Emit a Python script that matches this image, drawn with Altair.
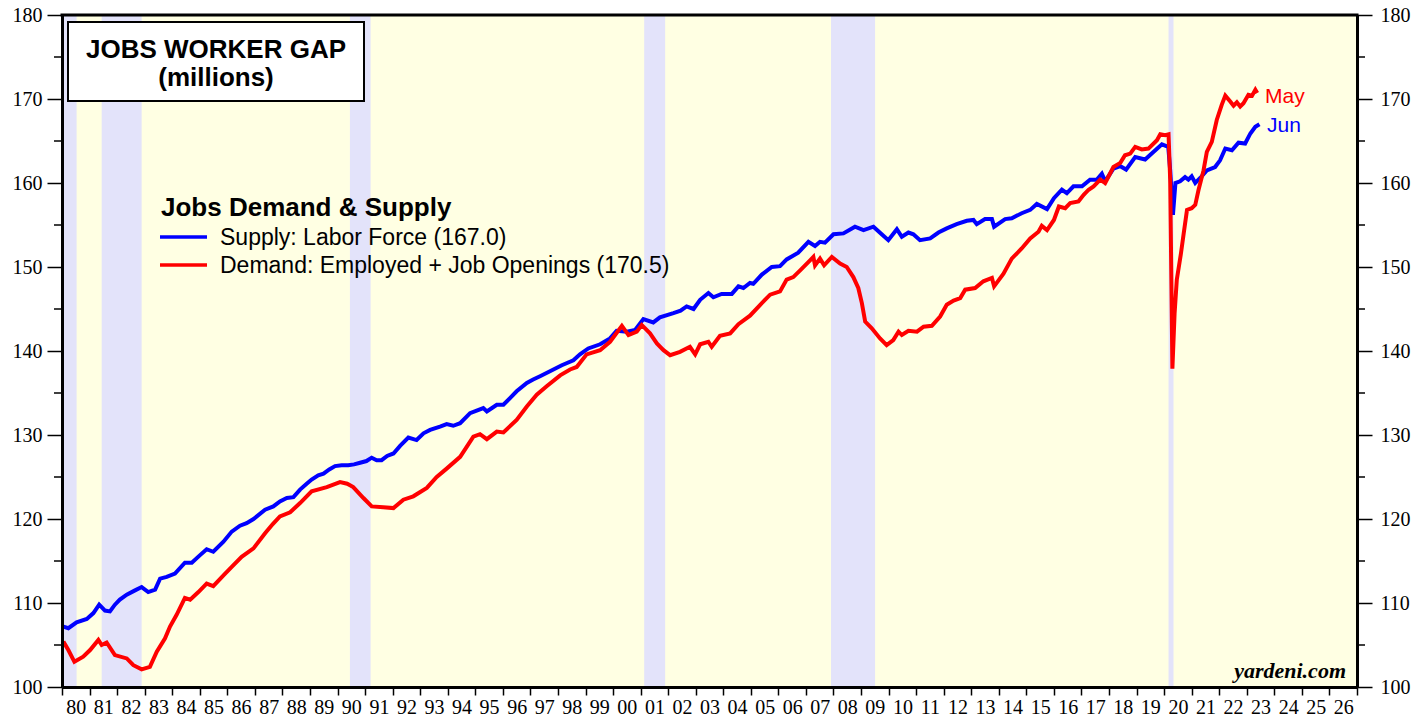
import altair as alt
import pandas as pd

# ---------------- data ----------------
SUPPLY_DATES = [
    1980.05, 1980.23, 1980.53, 1980.90, 1981.14, 1981.35, 1981.56, 1981.74, 1981.92, 1982.10,
    1982.35, 1982.65, 1982.89, 1983.13, 1983.38, 1983.56, 1983.80, 1984.10, 1984.46, 1984.71,
    1985.01, 1985.25, 1985.49, 1985.86, 1986.16, 1986.46, 1986.70, 1986.95, 1987.37, 1987.67,
    1987.91, 1988.16, 1988.40, 1988.64, 1988.88, 1989.06, 1989.30, 1989.49, 1989.70, 1989.91,
    1990.15, 1990.39, 1990.60, 1990.82, 1991.05, 1991.24, 1991.42, 1991.60, 1991.80, 1992.03,
    1992.27, 1992.57, 1992.87, 1993.12, 1993.36, 1993.72, 1993.96, 1994.20, 1994.45, 1994.81,
    1995.05, 1995.29, 1995.42, 1995.78, 1996.02, 1996.26, 1996.50, 1996.87, 1997.10, 1997.35,
    1997.71, 1998.14, 1998.56, 1998.80, 1999.10, 1999.53, 1999.89, 2000.13, 2000.50, 2000.80,
    2001.10, 2001.46, 2001.70, 2002.19, 2002.45, 2002.67, 2002.92, 2003.16, 2003.46, 2003.64,
    2003.94, 2004.31, 2004.55, 2004.73, 2004.97, 2005.09, 2005.40, 2005.76, 2006.06, 2006.30,
    2006.72, 2007.09, 2007.33, 2007.51, 2007.69, 2008.00, 2008.36, 2008.78, 2009.09, 2009.45,
    2009.75, 2009.99, 2010.30, 2010.48, 2010.72, 2010.90, 2011.14, 2011.51, 2011.81, 2012.11,
    2012.47, 2012.84, 2013.08, 2013.20, 2013.50, 2013.75, 2013.83, 2014.23, 2014.47, 2014.83,
    2015.14, 2015.38, 2015.75, 2016.00, 2016.29, 2016.47, 2016.71, 2017.02, 2017.31, 2017.56,
    2017.74, 2017.86, 2018.16, 2018.41, 2018.62, 2018.95, 2019.31, 2019.61, 2019.92, 2020.15,
    2020.22, 2020.32, 2020.41, 2020.58, 2020.76, 2020.88, 2021.00, 2021.13, 2021.31, 2021.55,
    2021.85, 2022.03, 2022.22, 2022.46, 2022.70, 2022.94, 2023.13, 2023.31, 2023.46,
]
SUPPLY_VALUES = [
    107.2, 107.0, 107.7, 108.1, 108.8, 109.8, 109.1, 109.0, 109.8, 110.4,
    111.0, 111.5, 111.9, 111.3, 111.6, 112.9, 113.1, 113.5, 114.8, 114.8,
    115.7, 116.4, 116.1, 117.3, 118.5, 119.2, 119.5, 120.0, 121.1, 121.5,
    122.1, 122.5, 122.6, 123.5, 124.2, 124.7, 125.2, 125.4, 125.9, 126.3,
    126.4, 126.4, 126.5, 126.7, 126.9, 127.3, 127.0, 127.0, 127.5, 127.8,
    128.7, 129.7, 129.4, 130.2, 130.6, 131.0, 131.3, 131.1, 131.4, 132.6,
    132.9, 133.2, 132.8, 133.6, 133.6, 134.4, 135.2, 136.2, 136.6, 137.0,
    137.6, 138.3, 138.9, 139.6, 140.3, 140.8, 141.5, 142.4, 142.3, 142.5,
    143.8, 143.4, 144.0, 144.5, 144.8, 145.3, 145.0, 146.1, 146.9, 146.4,
    146.8, 146.8, 147.7, 147.5, 148.1, 148.0, 149.1, 150.0, 150.1, 150.9,
    151.7, 153.0, 152.5, 153.0, 152.9, 153.9, 154.0, 154.8, 154.4, 154.8,
    153.9, 153.2, 154.5, 153.6, 154.1, 153.9, 153.2, 153.4, 154.1, 154.6,
    155.1, 155.5, 155.6, 155.1, 155.7, 155.7, 154.8, 155.7, 155.8, 156.4,
    156.8, 157.5, 156.9, 158.2, 159.2, 158.8, 159.6, 159.6, 160.4, 160.4,
    161.1, 160.2, 161.7, 162.0, 161.6, 163.1, 162.8, 163.7, 164.6, 164.3,
    161.5, 156.2, 160.0, 160.2, 160.7, 160.4, 160.8, 160.0, 160.6, 161.5,
    161.9, 162.7, 164.1, 163.9, 164.8, 164.7, 165.9, 166.7, 167.0,
]

DEMAND_DATES = [
    1980.05, 1980.23, 1980.45, 1980.77, 1981.02, 1981.32, 1981.44, 1981.62, 1981.92, 1982.35,
    1982.59, 1982.89, 1983.19, 1983.44, 1983.74, 1983.92, 1984.16, 1984.46, 1984.65, 1984.95,
    1985.25, 1985.49, 1985.86, 1986.16, 1986.52, 1986.95, 1987.37, 1987.65, 1987.91, 1988.28,
    1988.64, 1989.06, 1989.61, 1990.09, 1990.35, 1990.57, 1990.94, 1991.24, 1991.66, 1992.03,
    1992.39, 1992.75, 1993.24, 1993.60, 1993.96, 1994.45, 1994.93, 1995.17, 1995.42, 1995.78,
    1996.02, 1996.50, 1996.87, 1997.23, 1997.59, 1998.08, 1998.44, 1998.68, 1999.04, 1999.53,
    1999.89, 2000.32, 2000.56, 2000.86, 2001.04, 2001.34, 2001.59, 2001.83, 2002.07, 2002.43,
    2002.79, 2002.98, 2003.16, 2003.46, 2003.58, 2003.88, 2004.25, 2004.55, 2004.97, 2005.34,
    2005.70, 2006.06, 2006.30, 2006.54, 2006.79, 2007.15, 2007.27, 2007.33, 2007.51, 2007.66,
    2007.94, 2008.24, 2008.48, 2008.72, 2008.90, 2009.03, 2009.15, 2009.39, 2009.69, 2009.93,
    2010.17, 2010.36, 2010.48, 2010.72, 2011.03, 2011.27, 2011.57, 2011.87, 2012.11, 2012.36,
    2012.60, 2012.78, 2013.14, 2013.44, 2013.75, 2013.83, 2014.17, 2014.47, 2014.83, 2015.14,
    2015.44, 2015.56, 2015.75, 2016.00, 2016.18, 2016.41, 2016.59, 2016.89, 2017.08, 2017.26,
    2017.44, 2017.68, 2017.86, 2018.16, 2018.41, 2018.58, 2018.77, 2018.95, 2019.19, 2019.43,
    2019.74, 2019.86, 2020.04, 2020.16, 2020.22, 2020.30, 2020.38, 2020.46, 2020.61, 2020.71,
    2020.83, 2021.00, 2021.13, 2021.25, 2021.43, 2021.55, 2021.73, 2021.91, 2022.09, 2022.22,
    2022.40, 2022.52, 2022.64, 2022.76, 2022.88, 2023.06, 2023.19, 2023.31, 2023.38,
]
DEMAND_VALUES = [
    105.4, 104.4, 103.0, 103.6, 104.4, 105.6, 105.0, 105.3, 103.8, 103.4,
    102.6, 102.1, 102.4, 104.2, 105.8, 107.2, 108.6, 110.6, 110.4, 111.3,
    112.3, 112.0, 113.3, 114.3, 115.5, 116.5, 118.3, 119.4, 120.3, 120.8,
    121.9, 123.3, 123.8, 124.4, 124.2, 123.8, 122.5, 121.5, 121.4, 121.3,
    122.3, 122.7, 123.7, 125.0, 126.0, 127.4, 129.8, 130.1, 129.5, 130.4,
    130.3, 131.8, 133.4, 134.8, 135.8, 137.1, 137.8, 138.1, 139.6, 140.1,
    141.1, 143.0, 141.9, 142.3, 143.1, 142.1, 140.9, 140.1, 139.5, 139.9,
    140.5, 139.6, 140.8, 141.1, 140.5, 141.8, 142.1, 143.2, 144.2, 145.5,
    146.7, 147.1, 148.5, 148.8, 149.6, 150.8, 151.2, 150.2, 151.0, 150.2,
    151.2, 150.4, 150.0, 148.8, 147.5, 145.7, 143.5, 142.7, 141.5, 140.7,
    141.3, 142.3, 141.9, 142.4, 142.3, 142.9, 143.0, 144.1, 145.5, 146.0,
    146.3, 147.3, 147.5, 148.3, 148.7, 147.7, 149.2, 151.0, 152.2, 153.4,
    154.2, 154.9, 154.4, 155.6, 157.2, 157.0, 157.6, 157.8, 158.6, 159.2,
    159.6, 160.4, 160.0, 161.9, 162.4, 163.3, 163.5, 164.3, 164.0, 164.1,
    165.1, 165.8, 165.7, 165.8, 160.4, 137.9, 144.5, 148.5, 151.6, 154.0,
    156.8, 157.0, 157.4, 159.2, 161.5, 163.7, 164.9, 167.5, 169.3, 170.4,
    169.7, 169.2, 169.6, 169.1, 169.5, 170.5, 170.4, 171.1, 170.7,
]

RECESSION_START = [1980.00, 1981.44, 1990.45, 2001.13, 2007.91, 2020.16]
RECESSION_END = [1980.53, 1982.89, 1991.20, 2001.89, 2009.51, 2020.34]

YEAR_TICKS = list(range(1980, 2028))
Y_TICKS = [100, 110, 120, 130, 140, 150, 160, 170, 180]
Y_MINOR = [105, 115, 125, 135, 145, 155, 165, 175]

TITLE_LINES = ["JOBS WORKER GAP", "(millions)"]
LEGEND_TITLE = "Jobs Demand & Supply"
SERIES_NAMES = ["Supply: Labor Force (167.0)", "Demand: Employed + Job Openings (170.5)"]
END_LABELS = ["Jun", "May"]
SOURCE = "yardeni.com"

# ---------------- styling ----------------
W, H = 1295, 672
BLUE, RED = "#0000FF", "#FF0000"
BG = "#FFFFE3"
BAND = "#E3E3FA"
SERIF = "Liberation Serif"
SANS = "Liberation Sans"

supply = pd.DataFrame({"date": SUPPLY_DATES, "value": SUPPLY_VALUES})
demand = pd.DataFrame({"date": DEMAND_DATES, "value": DEMAND_VALUES})
rec = pd.DataFrame({"start": RECESSION_START, "end": RECESSION_END})
minor = pd.DataFrame({"v": Y_MINOR})
one = pd.DataFrame({"k": [0]})

xs = alt.Scale(domain=[1980, 2027], nice=False, zero=False)
ys = alt.Scale(domain=[100, 180], nice=False, zero=False)

x_axis = alt.Axis(
    values=YEAR_TICKS, format="d",
    labelExpr="datum.value < 2027 ? substring(datum.label, 2, 4) : ''",
    labelOffset=13.8, tickSize=8, tickWidth=1.5, tickColor="black",
    domainColor="black", domainWidth=3, labelFlush=False, labelOverlap=False,
    labelPadding=2, labelFont=SERIF, labelFontSize=20, labelColor="black",
    title=None, grid=False, zindex=2,
)


def y_axis(orient, pad):
    return alt.Axis(
        orient=orient, values=Y_TICKS, format="d", tickSize=15, tickWidth=1.5,
        tickColor="black", domainColor="black", domainWidth=3,
        labelFont=SERIF, labelFontSize=20, labelColor="black", labelPadding=pad,
        labelFlush=False, labelOverlap=False, grid=False, title=None, zindex=2,
    )


bands = alt.Chart(rec).mark_rect(color=BAND).encode(
    x=alt.X("start:Q", scale=xs, axis=x_axis), x2="end:Q",
    y=alt.value(0), y2=alt.value(H),
)

supply_line = alt.Chart(supply).mark_line(color=BLUE, strokeWidth=4).encode(
    x=alt.X("date:Q", scale=xs, axis=x_axis),
    y=alt.Y("value:Q", scale=ys, axis=y_axis("left", 5)),
)
demand_line = alt.Chart(demand).mark_line(color=RED, strokeWidth=4).encode(
    x=alt.X("date:Q", scale=xs, axis=x_axis),
    y=alt.Y("value:Q", scale=ys, axis=y_axis("right", 8)),
)

minor_left = alt.Chart(minor).mark_rule(color="black", strokeWidth=1.5).encode(
    x=alt.value(-8), x2=alt.value(0), y=alt.Y("v:Q", scale=ys, axis=None),
)
minor_right = alt.Chart(minor).mark_rule(color="black", strokeWidth=1.5).encode(
    x=alt.value(W), x2=alt.value(W + 8), y=alt.Y("v:Q", scale=ys, axis=None),
)
top_border = alt.Chart(one).mark_rule(color="black", strokeWidth=3).encode(
    x=alt.value(-1.5), x2=alt.value(W + 1.5), y=alt.value(0),
)

title_box = alt.Chart(one).mark_rect(fill="white", stroke="black", strokeWidth=2).encode(
    x=alt.value(6), x2=alt.value(302), y=alt.value(7), y2=alt.value(86),
)
title1 = alt.Chart(one).mark_text(
    text=TITLE_LINES[0], font=SANS, fontSize=26, fontWeight="bold", color="black",
    align="center", baseline="alphabetic",
).encode(x=alt.value(154), y=alt.value(43))
title2 = alt.Chart(one).mark_text(
    text=TITLE_LINES[1], font=SANS, fontSize=26, fontWeight="bold", color="black",
    align="center", baseline="alphabetic",
).encode(x=alt.value(154), y=alt.value(71))

leg_title = alt.Chart(one).mark_text(
    text=LEGEND_TITLE, font=SANS, fontSize=26, fontWeight="bold", color="black",
    align="left", baseline="alphabetic",
).encode(x=alt.value(99), y=alt.value(201))
leg_line1 = alt.Chart(one).mark_rule(color=BLUE, strokeWidth=3.5).encode(
    x=alt.value(98), x2=alt.value(145), y=alt.value(222),
)
leg_line2 = alt.Chart(one).mark_rule(color=RED, strokeWidth=3.5).encode(
    x=alt.value(98), x2=alt.value(145), y=alt.value(250),
)
leg_text1 = alt.Chart(one).mark_text(
    text=SERIES_NAMES[0], font=SANS, fontSize=23, color="black",
    align="left", baseline="alphabetic",
).encode(x=alt.value(158), y=alt.value(229.5))
leg_text2 = alt.Chart(one).mark_text(
    text=SERIES_NAMES[1], font=SANS, fontSize=23, color="black",
    align="left", baseline="alphabetic",
).encode(x=alt.value(158), y=alt.value(258))

end_jun = alt.Chart(one).mark_text(
    text=END_LABELS[0], font=SANS, fontSize=21, color=BLUE,
    align="left", baseline="alphabetic",
).encode(x=alt.value(1205), y=alt.value(117))
end_may = alt.Chart(one).mark_text(
    text=END_LABELS[1], font=SANS, fontSize=21, color=RED,
    align="left", baseline="alphabetic",
).encode(x=alt.value(1203), y=alt.value(87.5))

source = alt.Chart(one).mark_text(
    text=SOURCE, font=SERIF, fontSize=22, fontWeight="bold", fontStyle="italic",
    color="black", align="right", baseline="alphabetic",
).encode(x=alt.value(1284), y=alt.value(663))

chart = alt.layer(
    bands, supply_line, demand_line, minor_left, minor_right, top_border,
    title_box, title1, title2, leg_title, leg_line1, leg_line2, leg_text1, leg_text2,
    end_jun, end_may, source,
).resolve_axis(y="independent").properties(
    width=W, height=H,
    autosize=alt.AutoSizeParams(type="none"),
    padding={"left": 54, "top": 7, "right": 62, "bottom": 31},
    background="white",
).configure_view(fill=BG, stroke=None)

chart.save("out.html", embed_options={"renderer": "svg", "actions": False})
